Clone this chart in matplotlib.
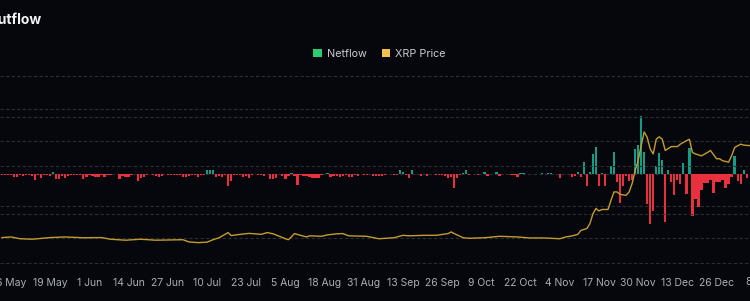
import datetime as dt

import matplotlib
matplotlib.use("Agg")
import matplotlib.dates as mdates
import matplotlib.pyplot as plt
from matplotlib.patches import Patch
from matplotlib.ticker import FuncFormatter, FixedLocator

# ----------------------------------------------------------------------------
# Data (daily netflow, M XRP; XRP close price, USD)
# ----------------------------------------------------------------------------
START = dt.date(2024, 5, 3)

netflow = [
    -5, -5, -3, -4, -12, -10, -4, -8, -4, -4,
    -8, -20, -3, -13, -3, -5, -8, 6, -17, -17,
    -6, -14, -6, -5, -5, -5, -5, -17, -12, -3,
    -6, -10, -12, -4, -10, -3, -4, -2, -2, -17,
    -6, -10, -10, -3, -1, -22, -15, -12, -4, -2,
    -5, -7, -12, -6, -2, -3, -4, -5, -4, -5,
    -12, -10, -8, -4, -5, -12, -3, -3, 12, 12,
    12, -10, -8, -10, -3, -38, -22, -3, -5, -5,
    -10, -6, -14, -3, -2, -5, -3, -6, -2, -18,
    -18, -14, -2, -7, -17, -8, 3, -7, -34, -3,
    -8, -8, -10, -13, -13, -13, -3, -2, 3, -12,
    -7, -7, -10, -6, -4, -10, -12, -5, -6, -2,
    -5, -4, -2, -9, -9, -9, -8, -4, -2, -2,
    -5, -3, 11, 6, -5, -15, 10, -2, -2, -6,
    -2, -8, -2, -2, -3, -4, -4, -8, -15, -10,
    -45, -14, -4, 3, 10, -3, -2, -2, -3, -2,
    4, -6, -2, -2, 4, -8, -2, -2, -2, -4,
    -4, -12, 3, 3, -2, -2, -2, -2, -2, 3,
    -2, 3, 3, -2, -2, -14, -2, -2, -2, -12,
    -7, 6, -12, 36, -38, 4, 59, 83, -37, 2,
    -37, -2, 24, 65, -25, -92, -39, -8, -22, -20,
    75, 88, 177, 65, -94, -155, -115, 24, 64, 41,
    -150, 11, -25, -65, -20, -31, 31, -63, 80, -130,
    -79, -104, -51, -28, -28, -20, -59, -27, -25, -20,
    -43, -31, -12, 54, -22, -31, 11, -14, -2,
]

price_day = [
    0, 3, 6, 10, 16, 21, 27, 33, 36, 41, 46, 51, 60, 62, 65, 68, 70, 72, 75, 76,
    79, 82, 86, 88, 90, 92, 94, 95, 96, 97, 99, 101, 102, 106, 108, 111, 113, 115,
    121, 125, 130, 133, 135, 140, 144, 148, 149, 150, 153, 155, 160, 165, 171, 175,
    180, 185, 187, 189, 191, 192, 194, 195, 196, 197, 198, 199, 201, 202, 203, 204,
    205, 207, 208, 209, 210, 211, 212, 213, 214, 215, 216, 217, 218, 219, 220, 222,
    224, 225, 227, 228, 229, 230, 232, 234, 235, 237, 238, 239, 241, 242, 243, 245,
    246, 248,
]
price = [
    0.524, 0.537, 0.50, 0.49, 0.524, 0.537, 0.52, 0.524, 0.49, 0.47, 0.49, 0.47,
    0.48, 0.435, 0.42, 0.43, 0.48, 0.52, 0.626, 0.565,
    0.59, 0.61, 0.59, 0.626, 0.60, 0.55, 0.50, 0.48, 0.537, 0.606, 0.57, 0.537,
    0.56, 0.55, 0.58, 0.60, 0.606, 0.56,
    0.55, 0.50, 0.52, 0.57, 0.56, 0.57, 0.57, 0.606, 0.64, 0.606, 0.52, 0.51,
    0.52, 0.55, 0.537, 0.516,
    0.516, 0.50, 0.537, 0.557, 0.59, 0.67, 0.71, 0.81, 1.01, 1.12, 1.07, 1.10,
    1.10, 1.29, 1.46, 1.46,
    1.41, 1.39, 1.46, 1.63, 1.90, 2.10, 2.41, 2.69, 2.58, 2.34, 2.24, 2.54, 2.59,
    2.54, 2.31, 2.39,
    2.39, 2.44, 2.51, 2.54, 2.27, 2.24, 2.20, 2.27, 2.31, 2.14, 2.14, 2.10, 2.07,
    2.20, 2.37, 2.44,
    2.42, 2.41,
]

tick_dates = [
    "2024-05-06", "2024-05-19", "2024-06-01", "2024-06-14", "2024-06-27",
    "2024-07-10", "2024-07-23", "2024-08-05", "2024-08-18", "2024-08-31",
    "2024-09-13", "2024-09-26", "2024-10-09", "2024-10-22", "2024-11-04",
    "2024-11-17", "2024-11-30", "2024-12-13", "2024-12-26",
]
last_tick = "8 Jan"   # past the right edge, only its first digit shows

# ----------------------------------------------------------------------------
# Styling
# ----------------------------------------------------------------------------
BG = "#05070c"
GRID = "#2a2e36"
GREEN = "#159c86"
RED = "#e8303e"
GOLD = "#c49c2e"
TICK = "#a9adb4"

plt.rcParams["font.family"] = ["Inter", "DejaVu Sans"]

fig = plt.figure(figsize=(7.5, 3.01), dpi=100, facecolor=BG)
ax = fig.add_axes([0.0, 1 - 268 / 301, 1.0, (268 - 71) / 301])
ax.set_facecolor(BG)
ax2 = ax.twinx()

days = [mdates.date2num(START + dt.timedelta(days=i)) for i in range(len(netflow))]
colors = [GREEN if v > 0 else RED for v in netflow]
ax.bar(days, netflow, width=0.75, color=colors, linewidth=0, zorder=3)

pdates = [mdates.date2num(START + dt.timedelta(days=d)) for d in price_day]
ax2.plot(pdates, price, color=GOLD, linewidth=1.0, zorder=4)

x0 = mdates.date2num(START)
ax.set_xlim(x0 - 0.65, x0 + 248.1)
ax.set_ylim(-291, 316)
ax2.set_ylim(-0.10, 3.94)

ax.set_yticks([-200, -100, 0, 100, 200, 300])
ax2.set_yticks([0, 1, 2, 3])
for a in (ax, ax2):
    a.grid(axis="y", color=GRID, linestyle=(0, (3, 2)), linewidth=0.8, zorder=0)
    a.tick_params(axis="y", length=0, labelleft=False, labelright=False)
    for s in a.spines.values():
        s.set_visible(False)
ax.set_axisbelow(True)

ticks = [mdates.date2num(dt.date.fromisoformat(d)) for d in tick_dates]
ax.xaxis.set_major_locator(FixedLocator(ticks))
ax.xaxis.set_major_formatter(FuncFormatter(
    lambda v, _: f"{mdates.num2date(v).day} {mdates.num2date(v):%b}"))
ax.tick_params(axis="x", length=0, pad=7, labelsize=7.5, labelcolor=TICK)

# tick label beyond the right edge (cropped in the reference)
fig.text(746 / 750, 1 - 282 / 301, last_tick, ha="left", va="center",
         fontsize=7.5, color=TICK)

# title is cropped at the left edge in the reference
fig.text(41 / 750, 1 - 20 / 301, "XRP Exchange Inflow/Outflow", ha="right",
         va="center", fontsize=10, fontweight="bold", color="#f2f3f5")

handles = [Patch(facecolor="#2ecc71", edgecolor="none", label="Netflow"),
           Patch(facecolor="#f2c14e", edgecolor="none", label="XRP Price")]
fig.legend(handles=handles, loc="center", bbox_to_anchor=(0.506, 1 - 54 / 301),
           ncol=2, frameon=False, fontsize=7.8, labelcolor="#c8ccd2",
           handlelength=0.8, handleheight=0.8, handletextpad=0.45,
           columnspacing=1.4)

fig.savefig("out.png", dpi=100, facecolor=BG)
